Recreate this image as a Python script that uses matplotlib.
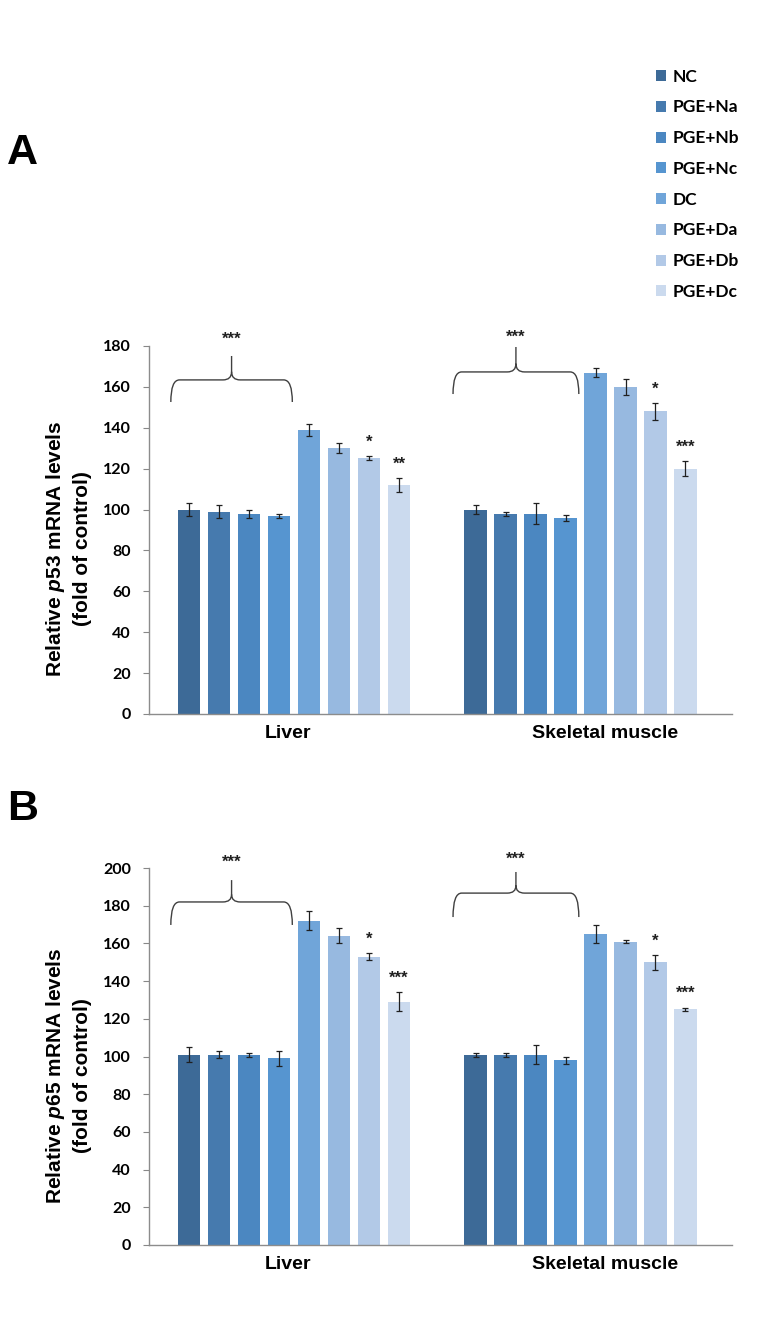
import numpy as np
import matplotlib.pyplot as plt
from matplotlib.path import Path
from matplotlib.patches import PathPatch

plt.rcParams['font.family'] = ['Liberation Sans', 'DejaVu Sans']
plt.rcParams['mathtext.fontset'] = 'custom'
plt.rcParams['mathtext.it'] = 'Liberation Sans:italic:bold'
plt.rcParams['mathtext.rm'] = 'Liberation Sans:bold'

# data
groups = ['NC', 'PGE+Na', 'PGE+Nb', 'PGE+Nc', 'DC', 'PGE+Da', 'PGE+Db', 'PGE+Dc']
tissues = ['Liver', 'Skeletal muscle']
colors = ['#3d6a97', '#467aae', '#4b87c1', '#5695d0', '#70a5d9', '#97b9e0', '#b2c9e7', '#cbdaee']

p53_liver = [100, 99, 98, 97, 139, 130, 125, 112]
p53_liver_err = [3, 3, 2, 1, 3, 2.5, 1, 3.5]
p53_muscle = [100, 98, 98, 96, 167, 160, 148, 120]
p53_muscle_err = [2, 1, 5, 1.5, 2, 4, 4, 3.5]

p65_liver = [101, 101, 101, 99, 172, 164, 153, 129]
p65_liver_err = [4, 2, 1, 4, 5, 4, 2, 5]
p65_muscle = [101, 101, 101, 98, 165, 161, 150, 125]
p65_muscle_err = [1, 1, 5, 2, 5, 1, 4, 1]

# significance marks on PGE+Db and PGE+Dc bars
p53_marks_liver = ['', '', '', '', '', '', '*', '**']
p53_marks_muscle = ['', '', '', '', '', '', '*', '***']
p65_marks_liver = ['', '', '', '', '', '', '*', '***']
p65_marks_muscle = ['', '', '', '', '', '', '*', '***']

# brace over NC..PGE+Nc: (leg bottom, bar level, tip, star) per tissue
p53_brace = [(152.6, 163.4, 175.1, 183.5), (156.5, 167.3, 179.5, 184.4)]
p65_brace = [(169.8, 182.0, 193.6, 203.2), (174.0, 186.7, 197.9, 204.8)]

step = 0.1047
width = 0.077
x = np.arange(len(tissues))


def brace(ax, x0, x1, y_end, y_mid, y_tip):
    xm = (x0 + x1) / 2
    rx = 0.03
    ry = 4
    verts = [(x0, y_end), (x0, y_mid), (x0 + rx, y_mid),
             (xm - rx, y_mid), (xm, y_mid), (xm, y_mid + ry), (xm, y_tip),
             (xm, y_mid + ry), (xm, y_mid), (xm + rx, y_mid),
             (x1 - rx, y_mid), (x1, y_mid), (x1, y_end)]
    codes = [Path.MOVETO, Path.CURVE3, Path.CURVE3,
             Path.LINETO, Path.CURVE3, Path.CURVE3, Path.LINETO,
             Path.MOVETO, Path.CURVE3, Path.CURVE3,
             Path.LINETO, Path.CURVE3, Path.CURVE3]
    ax.add_patch(PathPatch(Path(verts, codes), fill=False, edgecolor='#404040', lw=1.0, clip_on=False))


def panel(ax, liver, liver_err, muscle, muscle_err, marks_l, marks_m, braces, ymax, gene):
    bars = []
    for i, g in enumerate(groups):
        off = (i - 3.5) * step
        b = ax.bar(x + off, [liver[i], muscle[i]], width, color=colors[i], label=g,
                   yerr=[liver_err[i], muscle_err[i]],
                   error_kw=dict(ecolor='#202020', elinewidth=0.9, capsize=2, capthick=0.9))
        bars.append(b)
        for j, (val, err, m) in enumerate([(liver[i], liver_err[i], marks_l[i]),
                                          (muscle[i], muscle_err[i], marks_m[i])]):
            if m:
                ax.annotate(m, (x[j] + off, val + err), xytext=(0, 10), textcoords='offset points',
                            ha='center', va='center', fontsize=12, fontweight='bold', color='#202020')
    for j in range(len(tissues)):
        y_end, y_mid, y_tip, y_star = braces[j]
        x0 = x[j] - 3.5 * step - width / 2 - (0.025 if j == 0 else 0.04)
        x1 = x[j] - 0.5 * step + width / 2 + 0.008
        brace(ax, x0, x1, y_end, y_mid, y_tip)
        ax.text((x0 + x1) / 2, y_star, '***', ha='center', va='center', fontsize=12,
                fontweight='bold', color='#202020', clip_on=False)

    ax.set_xlim(-0.506, 1.529)
    ax.set_ylim(0, ymax)
    ax.set_yticks(np.arange(0, ymax + 1, 20))
    ax.set_xticks([-0.02, 1.085], tissues)
    ax.tick_params(axis='x', length=0, pad=8, labelsize=14)
    for t in ax.get_xticklabels():
        t.set_fontweight('bold')
    ax.tick_params(axis='y', length=4, color='#888888', pad=9, labelsize=11.5)
    for t in ax.get_yticklabels():
        t.set_family(['Lato', 'DejaVu Sans'])
        t.set_fontweight('bold')
    for s in ['top', 'right']:
        ax.spines[s].set_visible(False)
    for s in ['left', 'bottom']:
        ax.spines[s].set_color('#8c8c8c')
        ax.spines[s].set_linewidth(1.0)
    ax.text(-0.139, 0.45, 'Relative $\\mathit{' + gene + '}$ mRNA levels\n(fold of control)',
            transform=ax.transAxes, rotation=90, ha='center', va='center',
            fontsize=15, fontweight='bold', linespacing=1.35, multialignment='center')
    return bars


fig = plt.figure(figsize=(7.71, 13.18), dpi=100)
axA = fig.add_axes([0.1933, 0.4583, 0.7562, 0.2792])
axB = fig.add_axes([0.1933, 0.0554, 0.7562, 0.2860])

barsA = panel(axA, p53_liver, p53_liver_err, p53_muscle, p53_muscle_err,
              p53_marks_liver, p53_marks_muscle, p53_brace, 180, 'p53')
panel(axB, p65_liver, p65_liver_err, p65_muscle, p65_muscle_err,
      p65_marks_liver, p65_marks_muscle, p65_brace, 200, 'p65')

fig.text(7 / 771, 1 - 164 / 1318, 'A', fontsize=31, fontweight='bold', ha='left', va='baseline')
fig.text(7 / 771, 1 - 820 / 1318, 'B', fontsize=31, fontweight='bold', ha='left', va='baseline')

fig.legend(handles=barsA, labels=groups, loc='upper left', bbox_to_anchor=(647 / 771, 1 - 60 / 1318),
           frameon=False, borderpad=0, handlelength=0.6, handleheight=0.6, handletextpad=0.4,
           labelspacing=0.85, prop={'family': ['Lato', 'DejaVu Sans'], 'size': 12.5, 'weight': 'bold'})

fig.savefig('out.png', dpi=100)
